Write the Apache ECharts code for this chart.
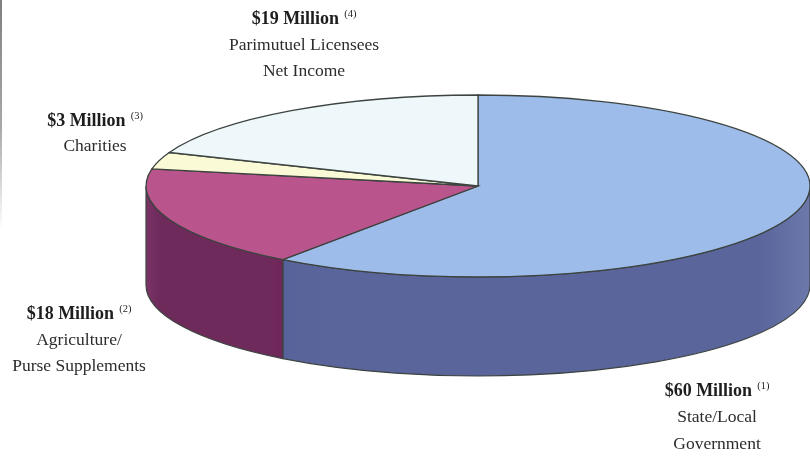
<!DOCTYPE html>
<html>
<head>
<meta charset="utf-8">
<style>html,body{margin:0;padding:0;background:#fff}#chart{width:810px;height:456px}</style>
<script src="https://cdn.jsdelivr.net/npm/echarts@6/dist/echarts.min.js"></script>
</head>
<body>
<div id="chart"></div>
<script>
// Allocation of gross proceeds, in millions of dollars, clockwise from twelve o'clock.
const categories = ['State/Local Government', 'Agriculture/Purse Supplements', 'Charities', 'Parimutuel Licensees Net Income'];
const amounts = [60, 18, 3, 19];
const amountLabels = ['$60 Million', '$18 Million', '$3 Million', '$19 Million'];
const notes = ['(1)', '(2)', '(3)', '(4)'];
const captions = [['State/Local', 'Government'], ['Agriculture/', 'Purse Supplements'], ['Charities'], ['Parimutuel Licensees', 'Net Income']];

// Disc geometry: a tilted circle seen as an ellipse, with a visible rim below it.
const disc = { cx: 478, cy: 186, rx: 332, ry: 91, depth: 99 };
const topColors = ['#9dbce9', '#b9548c', '#fbfad6', '#eef8fb'];
// Rim shading runs left to right: edge tone, body tone, edge tone.
const rimColors = [['#57639a', '#59659b', '#6d79ab'], ['#7a3566', '#6f2a5c', '#6f2658'], ['#c9c8a8', '#c9c8a8', '#c9c8a8'], ['#bcc6ca', '#bcc6ca', '#bcc6ca']];
const edge = '#3d4440';

// Caption anchors: x centre, y of the heading line, spacing of the lines below.
const captionBoxes = [
  { x: 717, y: 391, gap: 26.5 },
  { x: 79, y: 314, gap: 26 },
  { x: 95, y: 121, gap: 25.5 },
  { x: 304, y: 19, gap: 26 }
];

const total = amounts.reduce((a, b) => a + b, 0);
const fractionBefore = i => amounts.slice(0, i).reduce((a, b) => a + b, 0) / total;
const angleAt = f => f * 2 * Math.PI;
const pointAt = (t, dy) => [disc.cx + disc.rx * Math.sin(t), disc.cy - disc.ry * Math.cos(t) + (dy || 0)];

function ellipseArc(from, to, dy, sweep) {
  const p = pointAt(to, dy);
  const large = Math.abs(to - from) > Math.PI ? 1 : 0;
  return `A${disc.rx} ${disc.ry} 0 ${large} ${sweep} ${p[0]} ${p[1]}`;
}

function renderTop(params, api) {
  const i = params.dataIndex;
  const a0 = angleAt(fractionBefore(i));
  const a1 = a0 + angleAt(api.value(0) / total);
  const s = pointAt(a0);
  return {
    type: 'path',
    shape: { pathData: `M${disc.cx} ${disc.cy}L${s[0]} ${s[1]}${ellipseArc(a0, a1, 0, 1)}Z` },
    style: { fill: topColors[i], stroke: edge, lineWidth: 1.3 }
  };
}

// Only the near half of the disc (a quarter turn to three quarters) shows its rim.
function renderRim(params, api) {
  const i = params.dataIndex;
  const a0 = Math.max(angleAt(fractionBefore(i)), Math.PI / 2);
  const a1 = Math.min(angleAt(fractionBefore(i)) + angleAt(api.value(0) / total), Math.PI * 1.5);
  if (a1 <= a0) return null;
  const s = pointAt(a0), b = pointAt(a1, disc.depth);
  const shades = rimColors[i];
  return {
    type: 'path',
    shape: { pathData: `M${s[0]} ${s[1]}${ellipseArc(a0, a1, 0, 1)}L${b[0]} ${b[1]}${ellipseArc(a1, a0, disc.depth, 0)}Z` },
    style: {
      fill: new echarts.graphic.LinearGradient(0, 0, 1, 0, [
        { offset: 0, color: shades[0] },
        { offset: 0.1, color: shades[1] },
        { offset: 0.9, color: shades[1] },
        { offset: 1, color: shades[2] }
      ]),
      stroke: edge,
      lineWidth: 1.2
    }
  };
}

const serif = '"Liberation Serif", "Times New Roman", serif';
const captionGraphics = [];
amounts.forEach((_, i) => {
  const box = captionBoxes[i];
  captionGraphics.push({
    type: 'text', x: box.x, y: box.y,
    style: {
      text: `{h|${amountLabels[i]}}{n|${notes[i]}}`,
      align: 'center', verticalAlign: 'middle',
      rich: {
        h: { font: `bold 18px ${serif}`, fill: '#1e1e1e' },
        n: { font: `10.5px ${serif}`, fill: '#1e1e1e', padding: [0, 0, 10, 5] }
      }
    }
  });
  captions[i].forEach((line, k) => {
    captionGraphics.push({
      type: 'text', x: box.x, y: box.y + box.gap * (k + 1),
      style: { text: line, align: 'center', verticalAlign: 'middle', font: `17.5px ${serif}`, fill: '#2c2c2c' }
    });
  });
});
// Scan border along the upper left margin, fading out downward.
captionGraphics.push({
  type: 'rect', shape: { x: 0, y: 0, width: 2, height: 230 },
  style: {
    fill: new echarts.graphic.LinearGradient(0, 0, 0, 1, [
      { offset: 0, color: '#808080' },
      { offset: 0.55, color: '#a8a8a8' },
      { offset: 1, color: '#ffffff' }
    ])
  }
});

const chart = echarts.init(document.getElementById('chart'), null, { renderer: 'canvas' });
const rows = categories.map((name, i) => ({ name, value: [amounts[i]] }));
chart.setOption({
  animation: false,
  backgroundColor: '#ffffff',
  graphic: { elements: captionGraphics },
  series: [
    { type: 'custom', coordinateSystem: 'none', renderItem: renderRim, data: rows, silent: true, clip: false },
    { type: 'custom', coordinateSystem: 'none', renderItem: renderTop, data: rows, silent: true, clip: false }
  ]
});
</script>
</body>
</html>
